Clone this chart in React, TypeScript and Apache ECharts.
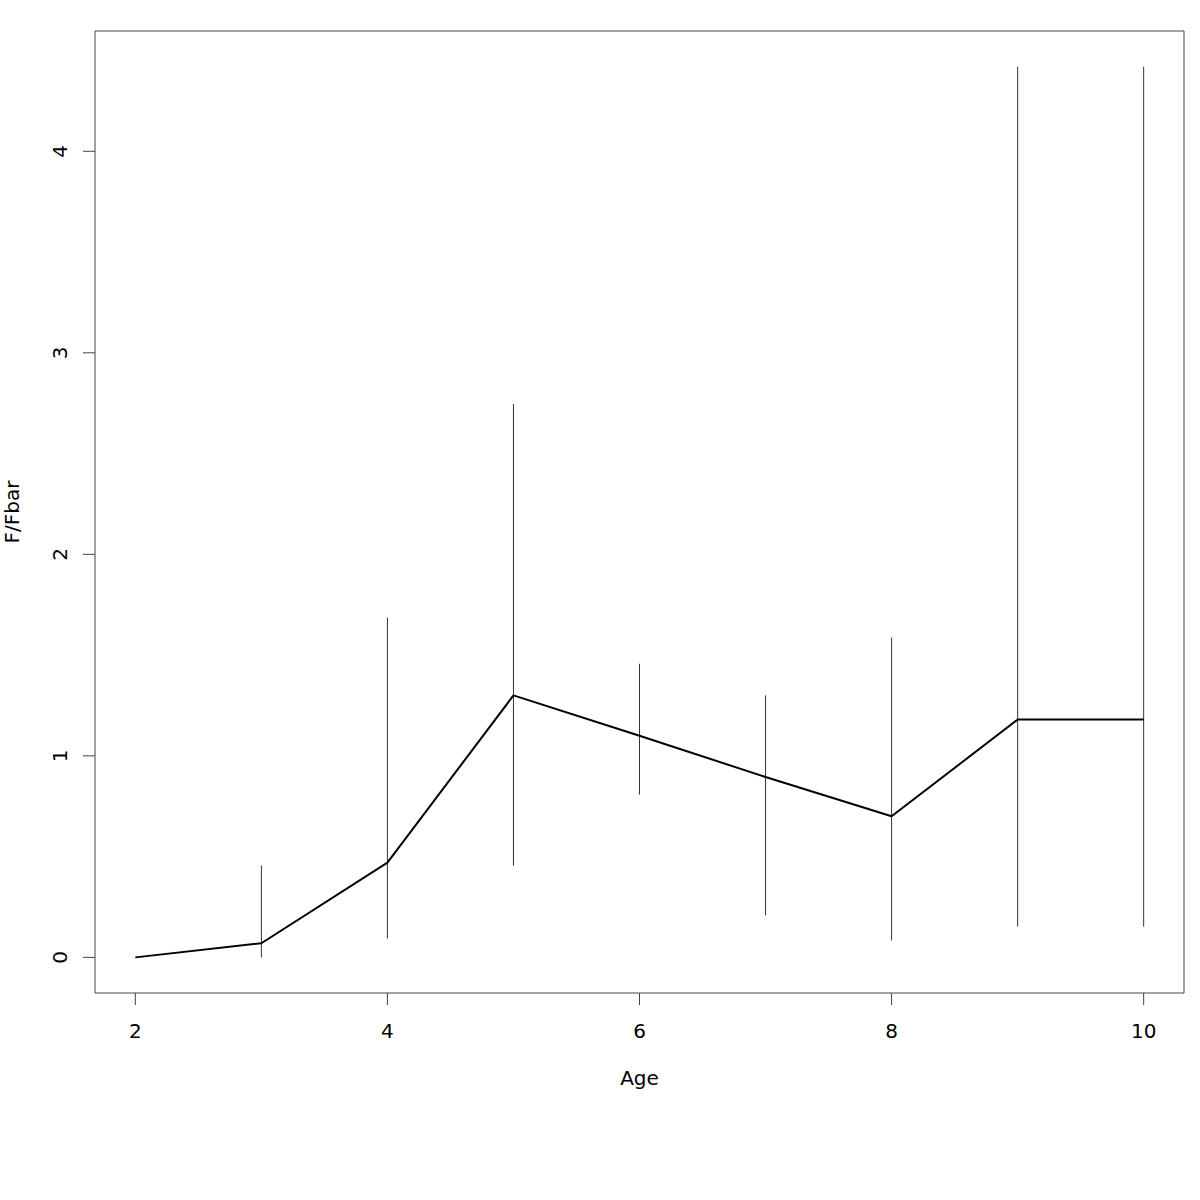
import React, { useEffect, useRef } from "react";
import * as echarts from "echarts";

const ages = [2, 3, 4, 5, 6, 7, 8, 9, 10];
const fRatio = [0, 0.07, 0.47, 1.3, 1.1, 0.895, 0.7, 1.18, 1.18];
const lower = [null, 0, 0.094, 0.455, 0.808, 0.208, 0.084, 0.153, 0.153];
const upper = [null, 0.456, 1.686, 2.746, 1.457, 1.3, 1.587, 4.42, 4.42];
const xTicks = [2, 4, 6, 8, 10];
const yTicks = [0, 1, 2, 3, 4];

const X_MIN = 1.68;
const X_MAX = 10.32;
const Y_MIN = -0.1768;
const Y_MAX = 4.597;

export default function App() {
  const ref = useRef<HTMLDivElement>(null);
  useEffect(() => {
    document.body.style.margin = "0";
    const chart = echarts.init(ref.current!, null, { renderer: "svg" });
    const font = "DejaVu Sans";
    const bars = ages
      .map((a, i) => (lower[i] == null ? null : [a, lower[i], upper[i]]))
      .filter((d) => d != null);
    const tickLen = 12;
    chart.setOption({
      animation: false,
      backgroundColor: "#fff",
      grid: {
        left: 95,
        right: 16,
        top: 31,
        bottom: 207,
        show: true,
        borderColor: "#444",
        borderWidth: 1,
        containLabel: false,
        outerBoundsMode: "none",
      },
      xAxis: {
        type: "value",
        min: X_MIN,
        max: X_MAX,
        name: "Age",
        nameLocation: "middle",
        nameGap: 75,
        nameTextStyle: { color: "#000", fontSize: 20, fontFamily: font },
        axisLine: { show: false, onZero: false },
        splitLine: { show: false },
        axisTick: { show: false },
        axisLabel: {
          customValues: xTicks,
          color: "#000",
          fontSize: 20,
          fontFamily: font,
          margin: 28,
        },
      },
      yAxis: {
        type: "value",
        min: Y_MIN,
        max: Y_MAX,
        name: "F/Fbar",
        nameLocation: "middle",
        nameGap: 73,
        nameRotate: 90,
        nameTextStyle: { color: "#000", fontSize: 20, fontFamily: font },
        axisLine: { show: false, onZero: false },
        splitLine: { show: false },
        axisTick: { show: false },
        axisLabel: {
          customValues: yTicks,
          color: "#000",
          fontSize: 20,
          fontFamily: font,
          rotate: 90,
          margin: 35,
          verticalAlign: "middle",
          align: "center",
        },
      },
      series: [
        {
          type: "custom",
          clip: false,
          silent: true,
          data: xTicks.map((v) => [v]),
          renderItem: (params: any, api: any) => {
            const p = api.coord([api.value(0), Y_MIN]);
            return {
              type: "line",
              shape: { x1: p[0], y1: p[1], x2: p[0], y2: p[1] + tickLen },
              style: { stroke: "#444", lineWidth: 1 },
            };
          },
        },
        {
          type: "custom",
          clip: false,
          silent: true,
          data: yTicks.map((v) => [X_MIN, v]),
          renderItem: (params: any, api: any) => {
            const p = api.coord([X_MIN, api.value(1)]);
            return {
              type: "line",
              shape: { x1: p[0], y1: p[1], x2: p[0] - tickLen, y2: p[1] },
              style: { stroke: "#444", lineWidth: 1 },
            };
          },
        },
        {
          type: "custom",
          data: bars,
          renderItem: (params: any, api: any) => {
            const p1 = api.coord([api.value(0), api.value(1)]);
            const p2 = api.coord([api.value(0), api.value(2)]);
            return {
              type: "line",
              shape: { x1: p1[0], y1: p1[1], x2: p2[0], y2: p2[1] },
              style: { stroke: "#333", lineWidth: 1 },
            };
          },
          silent: true,
        },
        {
          type: "line",
          data: ages.map((a, i) => [a, fRatio[i]]),
          showSymbol: false,
          lineStyle: { color: "#000", width: 2 },
          silent: true,
        },
      ],
    });
    return () => chart.dispose();
  }, []);
  return <div ref={ref} style={{ width: 1200, height: 1200 }} />;
}
